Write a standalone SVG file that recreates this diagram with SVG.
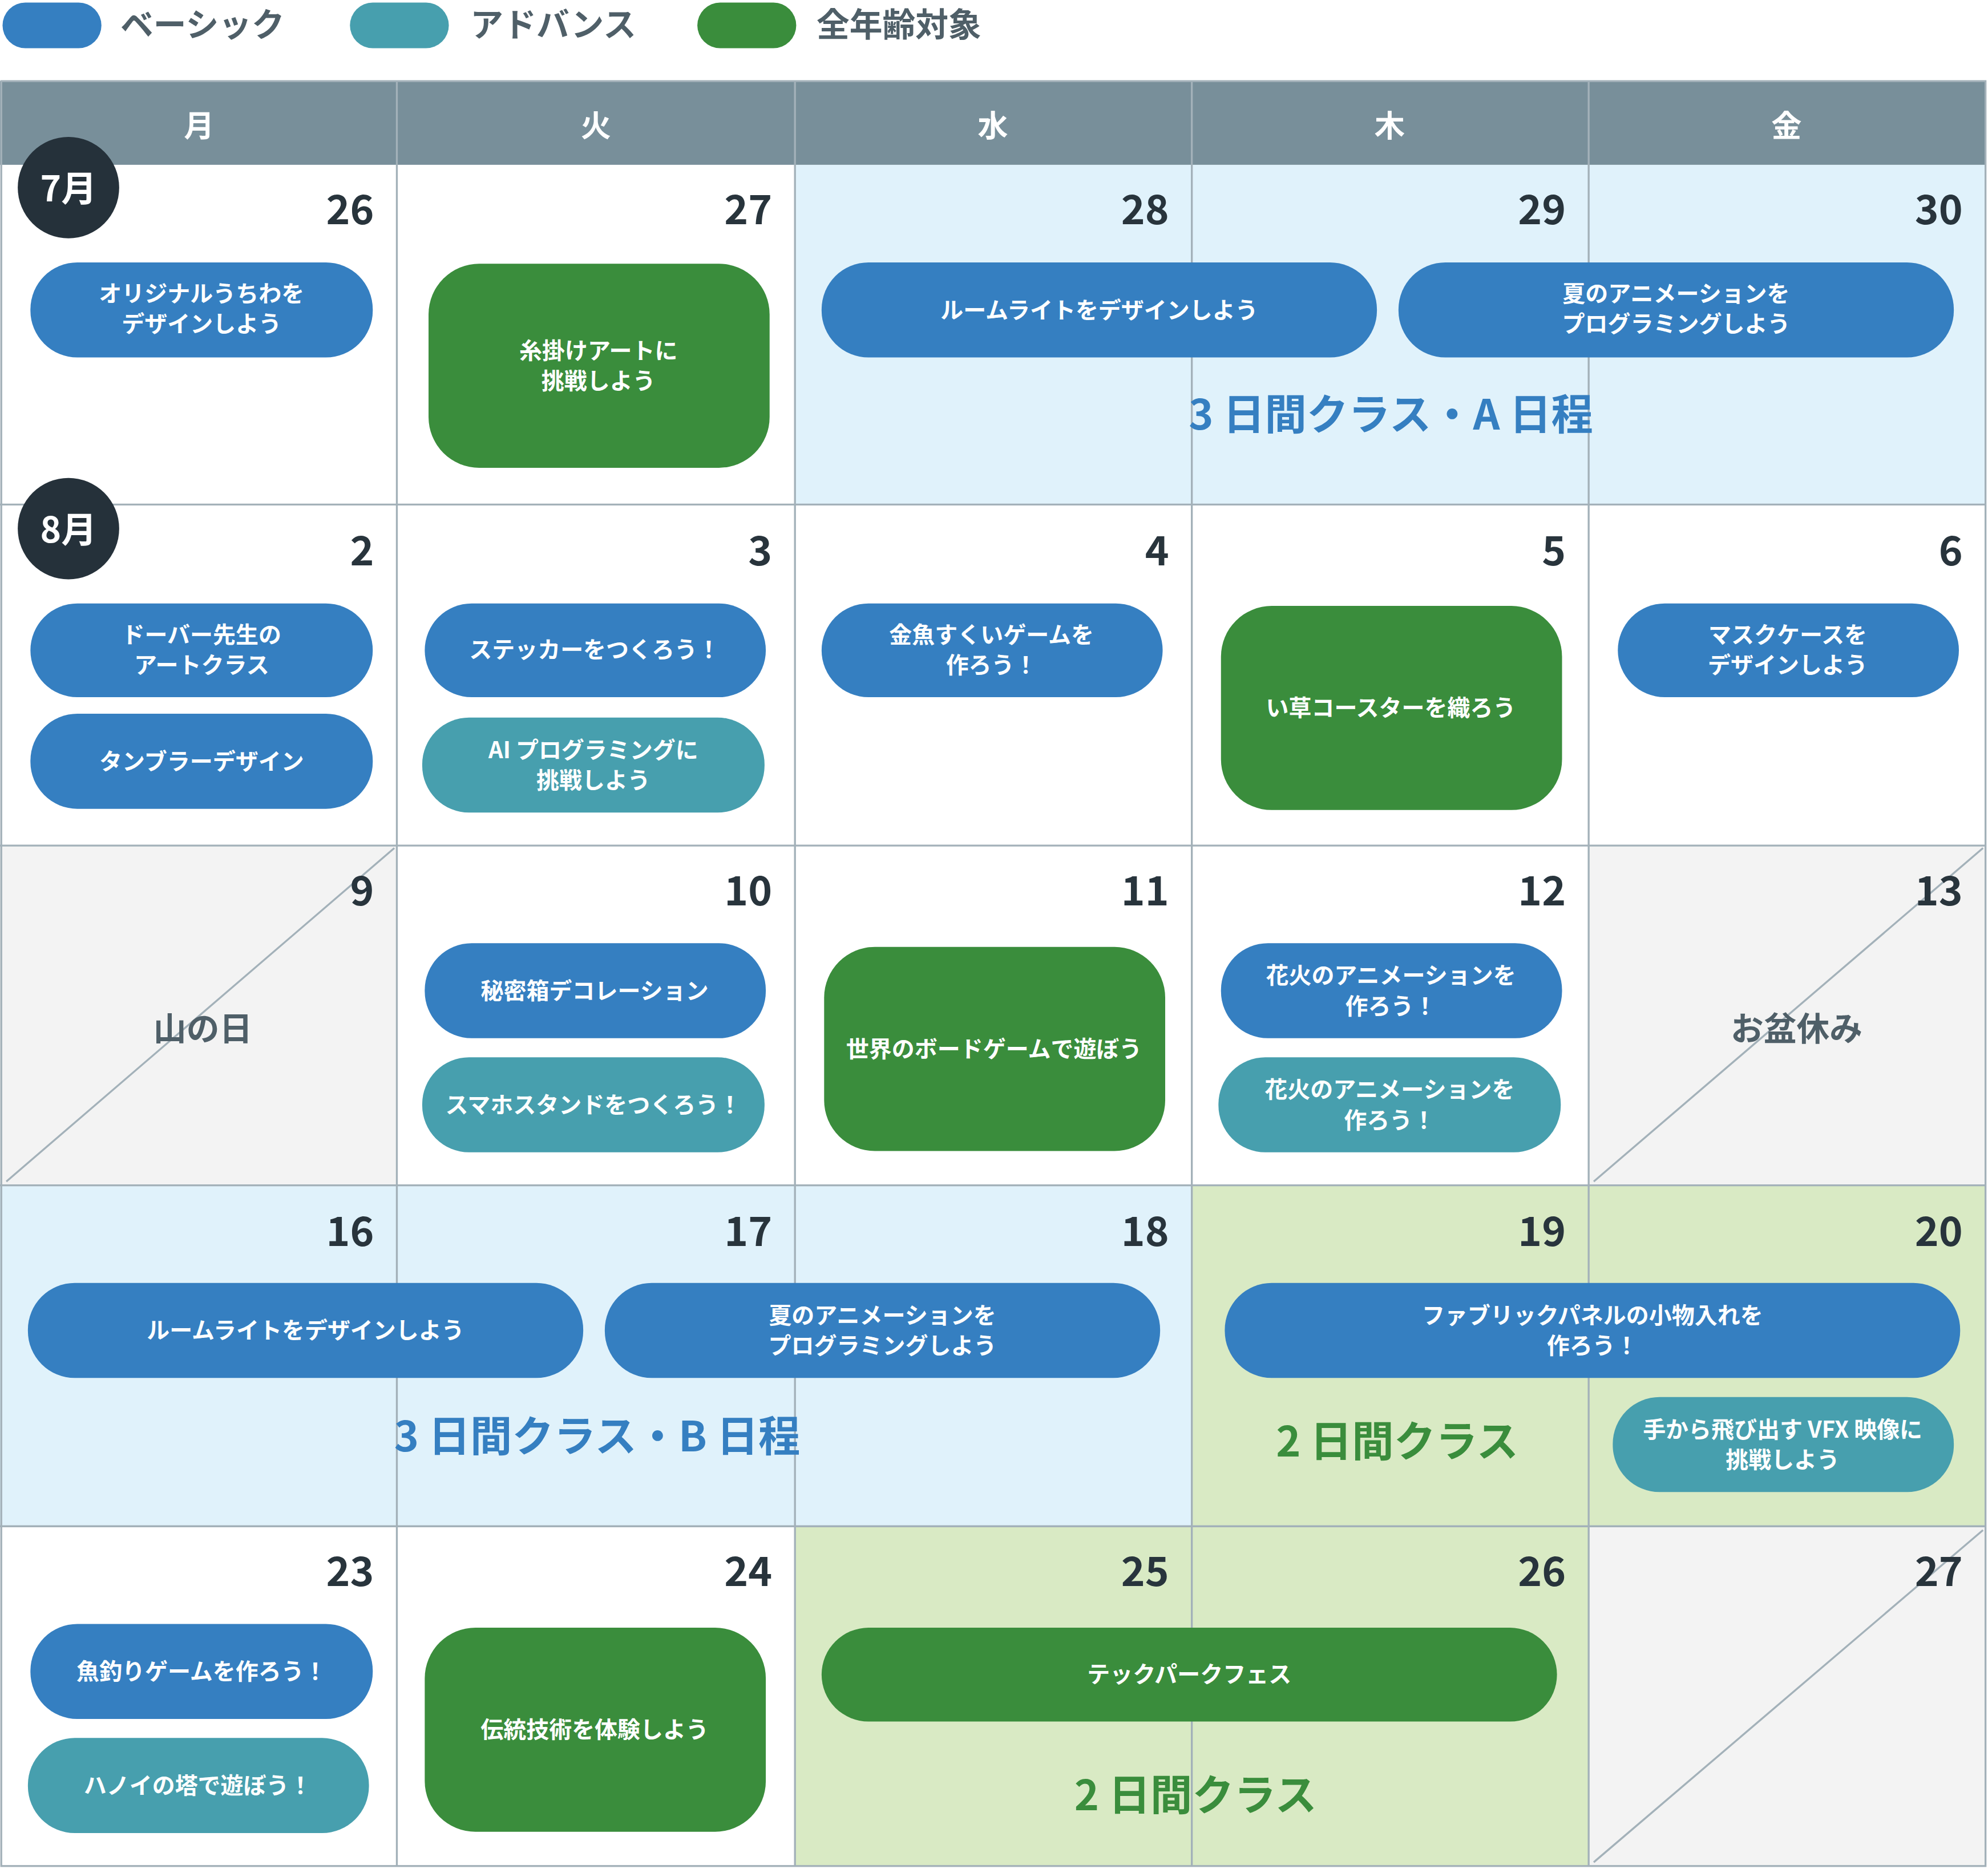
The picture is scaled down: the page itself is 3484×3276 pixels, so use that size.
<svg xmlns="http://www.w3.org/2000/svg" width="3484" height="3276" viewBox="0 0 3484 3276">
<style>
text{font-family:"Noto Sans CJK JP","Noto Sans",sans-serif;font-weight:bold}
.b{fill:#357fc1}.t{fill:#479fae}.g{fill:#3a8d3c}
.pt{fill:#fff;font-size:18px;text-anchor:middle}
.day{fill:#28343c;font-size:32px;text-anchor:end}
.hd{fill:#fff;font-size:24px;text-anchor:middle}
.lg{fill:#4f5f68;font-size:26px}
.big{font-size:33px;text-anchor:middle}
.grid{stroke:#a3b1b9;stroke-width:1.5;fill:none}
.hol{fill:#4f5f68;font-size:26px;text-anchor:middle}
</style>
<rect width="3484" height="3276" fill="#fff"/>
<g transform="scale(2.222)">
<g id="legend">
<rect x="2" y="2" width="78" height="36" rx="18" class="b"/><text x="95" y="29" class="lg">ベーシック</text>
<rect x="276" y="2" width="78" height="36" rx="18" class="t"/><text x="371" y="29" class="lg">アドバンス</text>
<rect x="550" y="2" width="78" height="36" rx="18" class="g"/><text x="644" y="29" class="lg">全年齢対象</text>
</g>
<g id="backgrounds">
<rect x="627" y="130" width="939" height="268" fill="#e0f2fb"/>
<rect x="0" y="935" width="940" height="269" fill="#e0f2fb"/>
<rect x="940" y="935" width="626" height="269" fill="#d9eac4"/>
<rect x="627" y="1204" width="626" height="268" fill="#d9eac4"/>
<rect x="0" y="667" width="313" height="268" fill="#f3f3f3"/>
<rect x="1253" y="667" width="313" height="268" fill="#f3f3f3"/>
<rect x="1253" y="1204" width="313" height="268" fill="#f3f3f3"/>
</g>
<g id="header">
<rect x="0" y="64" width="1566" height="66" fill="#788f9a"/>
<text x="157" y="108" class="hd">月</text><text x="470" y="108" class="hd">火</text><text x="783" y="108" class="hd">水</text><text x="1096" y="108" class="hd">木</text><text x="1409" y="108" class="hd">金</text>
</g>
<g id="grid" class="grid">
<rect x="1" y="64" width="1565" height="1408"/>
<path d="M313 64V1472M627 64V1472M940 64V1472M1253 64V1472M0 398H1566M0 667H1566M0 935H1566M0 1204H1566"/>
<path d="M5 932L311 669M1257 932L1564 669M1257 1469L1564 1207"/>
</g>
<g id="days">
<text x="295" y="177" class="day">26</text><text x="609" y="177" class="day">27</text><text x="922" y="177" class="day">28</text><text x="1235" y="177" class="day">29</text><text x="1548" y="177" class="day">30</text>
<text x="295" y="446" class="day">2</text><text x="609" y="446" class="day">3</text><text x="922" y="446" class="day">4</text><text x="1235" y="446" class="day">5</text><text x="1548" y="446" class="day">6</text>
<text x="295" y="714" class="day">9</text><text x="609" y="714" class="day">10</text><text x="922" y="714" class="day">11</text><text x="1235" y="714" class="day">12</text><text x="1548" y="714" class="day">13</text>
<text x="295" y="983" class="day">16</text><text x="609" y="983" class="day">17</text><text x="922" y="983" class="day">18</text><text x="1235" y="983" class="day">19</text><text x="1548" y="983" class="day">20</text>
<text x="295" y="1251" class="day">23</text><text x="609" y="1251" class="day">24</text><text x="922" y="1251" class="day">25</text><text x="1235" y="1251" class="day">26</text><text x="1548" y="1251" class="day">27</text>
<text x="160" y="821" class="hol">山の日</text><text x="1417" y="821" class="hol">お盆休み</text>
</g>
<g id="month7"><circle cx="54" cy="148" r="40" fill="#25313a"/><text x="54" y="159" fill="#fff" font-size="28" text-anchor="middle">7月</text></g>
<g id="month8"><circle cx="54" cy="417" r="40" fill="#25313a"/><text x="54" y="428" fill="#fff" font-size="28" text-anchor="middle">8月</text></g>
<g id="e1"><rect x="24" y="207" width="270" height="75" rx="37" class="b"/><text x="159" y="238" class="pt">オリジナルうちわを</text><text x="159" y="262" class="pt">デザインしよう</text></g>
<g id="e2"><rect x="338" y="208" width="269" height="161" rx="40" class="g"/><text x="472" y="283" class="pt">糸掛けアートに</text><text x="472" y="307" class="pt">挑戦しよう</text></g>
<g id="e3"><rect x="648" y="207" width="438" height="75" rx="37" class="b"/><text x="867" y="251" class="pt">ルームライトをデザインしよう</text></g>
<g id="e4"><rect x="1103" y="207" width="438" height="75" rx="37" class="b"/><text x="1322" y="238" class="pt">夏のアニメーションを</text><text x="1322" y="262" class="pt">プログラミングしよう</text></g>
<g id="labelA"><text x="1097" y="339" class="big b">3 日間クラス・A 日程</text></g>
<g id="e5"><rect x="24" y="476" width="270" height="74" rx="37" class="b"/><text x="159" y="507" class="pt">ドーバー先生の</text><text x="159" y="531" class="pt">アートクラス</text></g>
<g id="e6"><rect x="24" y="563" width="270" height="75" rx="37" class="b"/><text x="159" y="607" class="pt">タンブラーデザイン</text></g>
<g id="e7"><rect x="335" y="476" width="269" height="74" rx="37" class="b"/><text x="469" y="519" class="pt">ステッカーをつくろう！</text></g>
<g id="e8"><rect x="333" y="566" width="270" height="75" rx="37" class="t"/><text x="468" y="598" class="pt">AI プログラミングに</text><text x="468" y="622" class="pt">挑戦しよう</text></g>
<g id="e9"><rect x="648" y="476" width="269" height="74" rx="37" class="b"/><text x="782" y="507" class="pt">金魚すくいゲームを</text><text x="782" y="531" class="pt">作ろう！</text></g>
<g id="e10"><rect x="963" y="478" width="269" height="161" rx="40" class="g"/><text x="1097" y="565" class="pt">い草コースターを織ろう</text></g>
<g id="e11"><rect x="1276" y="476" width="269" height="74" rx="37" class="b"/><text x="1410" y="507" class="pt">マスクケースを</text><text x="1410" y="531" class="pt">デザインしよう</text></g>
<g id="e12"><rect x="335" y="744" width="269" height="75" rx="37" class="b"/><text x="469" y="788" class="pt">秘密箱デコレーション</text></g>
<g id="e13"><rect x="333" y="834" width="270" height="75" rx="37" class="t"/><text x="468" y="878" class="pt">スマホスタンドをつくろう！</text></g>
<g id="e14"><rect x="650" y="747" width="269" height="161" rx="40" class="g"/><text x="784" y="834" class="pt">世界のボードゲームで遊ぼう</text></g>
<g id="e15"><rect x="963" y="744" width="269" height="75" rx="37" class="b"/><text x="1097" y="776" class="pt">花火のアニメーションを</text><text x="1097" y="800" class="pt">作ろう！</text></g>
<g id="e16"><rect x="961" y="834" width="270" height="75" rx="37" class="t"/><text x="1096" y="866" class="pt">花火のアニメーションを</text><text x="1096" y="890" class="pt">作ろう！</text></g>
<g id="e17"><rect x="22" y="1012" width="438" height="75" rx="37" class="b"/><text x="241" y="1056" class="pt">ルームライトをデザインしよう</text></g>
<g id="e18"><rect x="477" y="1012" width="438" height="75" rx="37" class="b"/><text x="696" y="1044" class="pt">夏のアニメーションを</text><text x="696" y="1068" class="pt">プログラミングしよう</text></g>
<g id="labelB"><text x="471" y="1145" class="big b">3 日間クラス・B 日程</text></g>
<g id="e19"><rect x="966" y="1012" width="580" height="75" rx="37" class="b"/><text x="1256" y="1044" class="pt">ファブリックパネルの小物入れを</text><text x="1256" y="1068" class="pt">作ろう！</text></g>
<g id="label2a"><text x="1102" y="1149" class="big g">2 日間クラス</text></g>
<g id="e20"><rect x="1272" y="1102" width="269" height="75" rx="37" class="t"/><text x="1406" y="1134" class="pt">手から飛び出す VFX 映像に</text><text x="1406" y="1158" class="pt">挑戦しよう</text></g>
<g id="e21"><rect x="24" y="1281" width="270" height="75" rx="37" class="b"/><text x="159" y="1325" class="pt">魚釣りゲームを作ろう！</text></g>
<g id="e22"><rect x="22" y="1371" width="269" height="75" rx="37" class="t"/><text x="156" y="1415" class="pt">ハノイの塔で遊ぼう！</text></g>
<g id="e23"><rect x="335" y="1284" width="269" height="161" rx="40" class="g"/><text x="469" y="1371" class="pt">伝統技術を体験しよう</text></g>
<g id="e24"><rect x="648" y="1284" width="580" height="74" rx="37" class="g"/><text x="938" y="1327" class="pt">テックパークフェス</text></g>
<g id="label2b"><text x="943" y="1428" class="big g">2 日間クラス</text></g>
<g id="connectors"/>
</g>
</svg>
